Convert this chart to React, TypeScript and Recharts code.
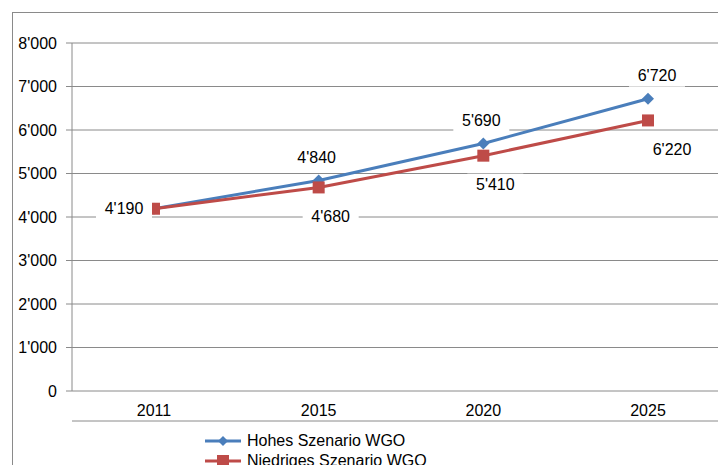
import React from 'react';
import { LineChart, Line, XAxis, YAxis, CartesianGrid, Legend, LabelList } from 'recharts';

const years = ['2011', '2015', '2020', '2025'];
const hohesSzenario = [4190, 4840, 5690, 6720];
const niedrigesSzenario = [4190, 4680, 5410, 6220];
const yTicks = [0, 1000, 2000, 3000, 4000, 5000, 6000, 7000, 8000];
const frameTicks = [0, 1, 2, 3, 4];

const BLUE = '#4a7ebb';
const RED = '#be4b48';
const GRID = '#8a8a8a';
const FONT = '"Liberation Sans", Arial, sans-serif';
const FS = 16;

const data = years.map((year, i) => ({
  year,
  hoch: hohesSzenario[i],
  tief: niedrigesSzenario[i],
}));

// 4190 -> 4'190
const fmt = (v: number) =>
  v < 1000 ? String(v) : `${Math.floor(v / 1000)}'${String(v % 1000).padStart(3, '0')}`;

const Diamond = (props: any) => {
  const { cx, cy } = props;
  if (cx == null || cy == null) return null;
  return <polygon points={`${cx},${cy - 6} ${cx + 6},${cy} ${cx},${cy + 6} ${cx - 6},${cy}`} fill={BLUE} />;
};

const Square = (props: any) => {
  const { cx, cy } = props;
  if (cx == null || cy == null) return null;
  return <rect x={cx - 6} y={cy - 6} width={12} height={12} fill={RED} />;
};

const BoxLabel = ({ x, y, text }: { x: number; y: number; text: string }) => (
  <g>
    <rect x={x - 28} y={y - 11} width={56} height={22} fill="#fff" />
    <text x={x} y={y} textAnchor="middle" dominantBaseline="central" fontSize={FS} fontFamily={FONT} fill="#000">
      {text}
    </text>
  </g>
);

const highLabel = (props: any) => {
  const { x, y, value, index } = props;
  if (index === 0) return null;
  return <BoxLabel x={x + (index === 3 ? 9 : -2)} y={y - 23} text={fmt(value)} />;
};

const lowLabel = (props: any) => {
  const { x, y, value, index } = props;
  if (index === 0) return <BoxLabel x={x - 30} y={y} text={fmt(value)} />;
  return <BoxLabel x={x + (index === 3 ? 24 : 12)} y={y + 29} text={fmt(value)} />;
};

const legendItems = [
  { name: 'Hohes Szenario WGO', color: BLUE, marker: 'diamond' },
  { name: 'Niedriges Szenario WGO', color: RED, marker: 'square' },
];

const LegendContent = () => (
  <div style={{ height: 44, paddingTop: 4, fontFamily: FONT, fontSize: FS }}>
    {legendItems.map((item) => (
      <div key={item.name} style={{ display: 'flex', alignItems: 'center', height: 20 }}>
        <svg width={36} height={14} style={{ marginRight: 6 }}>
          <line x1={0} y1={7} x2={36} y2={7} stroke={item.color} strokeWidth={3} />
          {item.marker === 'diamond' ? (
            <polygon points="18,2 23,7 18,12 13,7" fill={item.color} />
          ) : (
            <rect x={12} y={1} width={12} height={12} fill={item.color} />
          )}
        </svg>
        <span>{item.name}</span>
      </div>
    ))}
  </div>
);

export default function App() {
  return (
    <div style={{ position: 'absolute', left: 0, top: 0, width: 718, height: 465, overflow: 'hidden', background: '#fff' }}>
      <div style={{ position: 'absolute', left: 12, top: 12, width: 800, height: 600, border: `1px solid ${GRID}` }} />
      <div style={{ position: 'absolute', left: 0, top: 0 }}>
        <LineChart width={740} height={475} data={data} margin={{ top: 43, right: 10, left: 0, bottom: 0 }}>
          <CartesianGrid vertical={false} stroke={GRID} xAxisId="cat" />
          <XAxis
            xAxisId="frame"
            type="number"
            domain={[0, 4]}
            ticks={frameTicks}
            tick={false}
            tickSize={6}
            stroke={GRID}
            height={6}
          />
          <XAxis
            xAxisId="cat"
            dataKey="year"
            padding={{ left: 82, right: 82 }}
            axisLine={false}
            tickLine={false}
            tick={{ fill: '#000', fontSize: FS, fontFamily: FONT }}
            tickMargin={8}
            height={30}
          />
          <YAxis
            domain={[0, 8000]}
            ticks={yTicks}
            tickFormatter={fmt}
            width={72}
            tickSize={6}
            tickMargin={9}
            stroke={GRID}
            tick={{ fill: '#000', fontSize: FS, fontFamily: FONT }}
            interval={0}
          />
          <Legend
            verticalAlign="bottom"
            align="left"
            content={<LegendContent />}
            wrapperStyle={{ left: 205, width: 'auto' }}
          />
          <Line
            xAxisId="cat"
            dataKey="hoch"
            stroke={BLUE}
            strokeWidth={3}
            dot={<Diamond />}
            activeDot={false}
            isAnimationActive={false}
          >
            <LabelList dataKey="hoch" content={highLabel} />
          </Line>
          <Line
            xAxisId="cat"
            dataKey="tief"
            stroke={RED}
            strokeWidth={3}
            dot={<Square />}
            activeDot={false}
            isAnimationActive={false}
          >
            <LabelList dataKey="tief" content={lowLabel} />
          </Line>
        </LineChart>
      </div>
    </div>
  );
}
